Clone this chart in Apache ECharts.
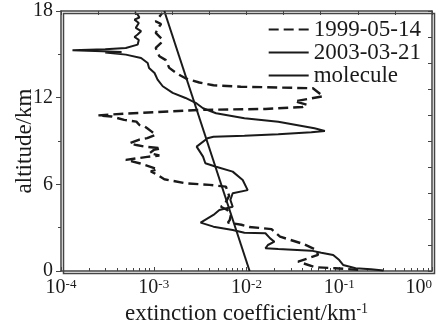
<!DOCTYPE html>
<html>
<head>
<meta charset="utf-8">
<script src="https://cdn.jsdelivr.net/npm/echarts@6/dist/echarts.min.js"></script>
<style>
  html, body { margin: 0; padding: 0; background: #fff; }
  #chart { width: 439px; height: 326px; }
</style>
</head>
<body>
<div id="chart"></div>
<script>
// profiles: [extinction coefficient (km^-1), altitude (km)]
const profile1999 = [
  [0.16, 0.08], [0.09, 0.19], [0.055, 0.26], [0.036, 0.65], [0.059, 1.11], [0.057, 1.45],
  [0.041, 1.87], [0.023, 2.38], [0.0186, 2.9], [0.0107, 3.05], [0.0088, 3.2], [0.0063, 3.35],
  [0.0066, 3.53], [0.0068, 3.9], [0.0062, 4.22], [0.0053, 4.45], [0.0058, 4.6], [0.0065, 5.2],
  [0.006, 5.84], [0.004, 5.96], [0.0022, 6.07], [0.0013, 6.35], [0.0011, 6.65], [0.00093, 6.9],
  [0.0011, 7.05], [0.0007, 7.46], [0.0005, 7.69], [0.00085, 7.9], [0.00115, 8.0], [0.0009, 8.15],
  [0.001, 8.38], [0.0012, 8.5], [0.0008, 8.61], [0.00065, 8.72], [0.00055, 8.84], [0.0007, 9.1],
  [0.00085, 9.2], [0.00105, 9.42], [0.00095, 9.65], [0.00085, 9.88], [0.0008, 10.0], [0.0007, 10.11],
  [0.00065, 10.34], [0.00048, 10.46], [0.00035, 10.7], [0.00025, 10.77], [0.0005, 10.9],
  [0.003, 11.15], [0.016, 11.22], [0.04, 11.35], [0.045, 11.5], [0.033, 11.75], [0.05, 11.95],
  [0.067, 12.1], [0.052, 12.65], [0.0087, 12.76], [0.0044, 12.86], [0.0031, 13.05], [0.0022, 13.34],
  [0.00174, 13.71], [0.00147, 14.06], [0.00135, 14.6], [0.00115, 14.87], [0.00105, 15.44],
  [0.0012, 15.8], [0.00125, 16.0], [0.00105, 16.48], [0.00115, 16.94], [0.0012, 17.1],
  [0.00105, 17.28], [0.00124, 17.87]
];
const profile2003 = [
  [0.30, 0.03], [0.22, 0.12], [0.15, 0.19], [0.11, 0.42], [0.10, 0.76], [0.086, 1.11], [0.064, 1.27],
  [0.050, 1.41], [0.022, 1.52], [0.016, 1.57], [0.017, 1.8], [0.020, 2.03], [0.018, 2.26],
  [0.016, 2.61], [0.0095, 2.65], [0.0071, 2.84], [0.0044, 3.07], [0.0032, 3.35], [0.0044, 3.88],
  [0.0051, 4.22], [0.0071, 4.45], [0.0067, 4.92], [0.0071, 5.38], [0.0103, 5.6], [0.0107, 5.73],
  [0.0091, 6.3], [0.0071, 6.88], [0.0047, 7.22], [0.0036, 7.46], [0.0034, 7.92], [0.0029, 8.61],
  [0.0038, 9.19], [0.0044, 9.30], [0.0095, 9.37], [0.022, 9.46], [0.050, 9.6], [0.070, 9.7],
  [0.054, 9.88], [0.022, 10.34], [0.0095, 10.57], [0.0047, 10.92], [0.0034, 11.27], [0.0029, 11.6],
  [0.0022, 11.98], [0.0016, 12.33], [0.00125, 12.79], [0.0011, 13.25], [0.00102, 13.71],
  [0.00089, 14.06], [0.00086, 14.4], [0.00073, 14.75], [0.0005, 14.98], [0.0003, 15.12],
  [0.00045, 15.16], [0.00028, 15.21], [0.000133, 15.28], [0.0003, 15.36], [0.0005, 15.44],
  [0.00067, 15.67], [0.00069, 16.0], [0.00062, 16.2], [0.00067, 16.37], [0.00073, 16.6],
  [0.00064, 16.83], [0.00069, 17.17], [0.00062, 17.4], [0.0007, 17.55], [0.00067, 17.76],
  [0.00062, 17.87]
];
const molecule = [[0.0108, 0], [0.0013, 18]];

const seriesNames = ['1999-05-14', '2003-03-21', 'molecule'];
const xRange = [1e-4, 1];
const yRange = [0, 18];
const yStep = 6;
// top and right frame axes carry 10 evenly spaced ticks
const frameSpan = [0, 10];

const FONT = "'Liberation Serif', 'DejaVu Serif', serif";
const INK = '#1a1a1a';
const FRAME = '#444';
const GRID = { left: 61, right: 7, top: 11, bottom: 55 };
const W = 439, H = 326;

const chart = echarts.init(document.getElementById('chart'));

const lineSeries = (name, data, dashed) => ({
  name,
  type: 'line',
  data,
  symbol: 'none',
  showSymbol: false,
  lineStyle: { color: INK, width: dashed ? 2.4 : 2, type: dashed ? [10, 5] : 'solid' },
  itemStyle: { color: INK },
  animation: false,
});

const frameAxis = (position) => ({
  type: 'value',
  position,
  min: frameSpan[0],
  max: frameSpan[1],
  interval: 1,
  axisLine: { show: true, onZero: false, lineStyle: { color: FRAME, width: 1.5 } },
  axisTick: { show: true, inside: true, length: 4, lineStyle: { color: FRAME } },
  axisLabel: { show: false },
  splitLine: { show: false },
});

chart.setOption({
  animation: false,
  grid: Object.assign({ outerBoundsMode: 'none' }, GRID),
  // plot frame, drawn on top so the top and right edges always show
  graphic: [{
    type: 'rect',
    left: GRID.left,
    top: GRID.top,
    z: 100,
    silent: true,
    shape: { width: W - GRID.left - GRID.right, height: H - GRID.top - GRID.bottom },
    style: { fill: 'none', stroke: FRAME, lineWidth: 1.5 },
  }],
  legend: {
    orient: 'vertical',
    right: 13,
    top: 13,
    itemGap: 0,
    itemWidth: 40,
    itemHeight: 12,
    data: seriesNames,
    itemStyle: { opacity: 0 },
    textStyle: { fontFamily: FONT, fontSize: 23, color: INK },
  },
  xAxis: [
    {
      type: 'log',
      logBase: 10,
      min: xRange[0],
      max: xRange[1],
      name: 'extinction coefficient/km{s|-1}',
      nameLocation: 'middle',
      nameGap: 31,
      nameMoveOverlap: false,
      nameTextStyle: {
        fontFamily: FONT, fontSize: 23, color: INK,
        rich: { s: { fontFamily: FONT, fontSize: 14, color: INK, verticalAlign: 'top' } },
      },
      axisLine: { onZero: false, lineStyle: { color: FRAME, width: 1.5 } },
      axisTick: { show: true, inside: true, length: 4, lineStyle: { color: FRAME } },
      minorTick: { show: true, splitNumber: 9, length: 3, lineStyle: { color: FRAME } },
      splitLine: { show: false },
      axisLabel: {
        margin: 7,
        alignMaxLabel: 'right',
        formatter: v => '{b|10}{s|' + Math.round(Math.log10(v)) + '}',
        rich: {
          b: { fontFamily: FONT, fontSize: 20, color: INK },
          s: { fontFamily: FONT, fontSize: 13, color: INK, verticalAlign: 'top' },
        },
      },
    },
    frameAxis('top'),
  ],
  yAxis: [
    {
      type: 'value',
      min: yRange[0],
      max: yRange[1],
      interval: yStep,
      name: 'altitude/km',
      nameLocation: 'middle',
      nameGap: 25,
      nameMoveOverlap: false,
      nameTextStyle: { fontFamily: FONT, fontSize: 23, color: INK },
      axisLine: { show: true, onZero: false, lineStyle: { color: FRAME, width: 1.5 } },
      axisTick: { show: true, inside: false, length: 5, lineStyle: { color: FRAME } },
      minorTick: { show: true, splitNumber: 2, length: 3, lineStyle: { color: FRAME } },
      splitLine: { show: false },
      axisLabel: { margin: 8, fontFamily: FONT, fontSize: 20, color: INK },
    },
    frameAxis('right'),
  ],
  series: [
    lineSeries(seriesNames[0], profile1999, true),
    lineSeries(seriesNames[1], profile2003, false),
    lineSeries(seriesNames[2], molecule, false),
  ],
});
</script>
</body>
</html>
